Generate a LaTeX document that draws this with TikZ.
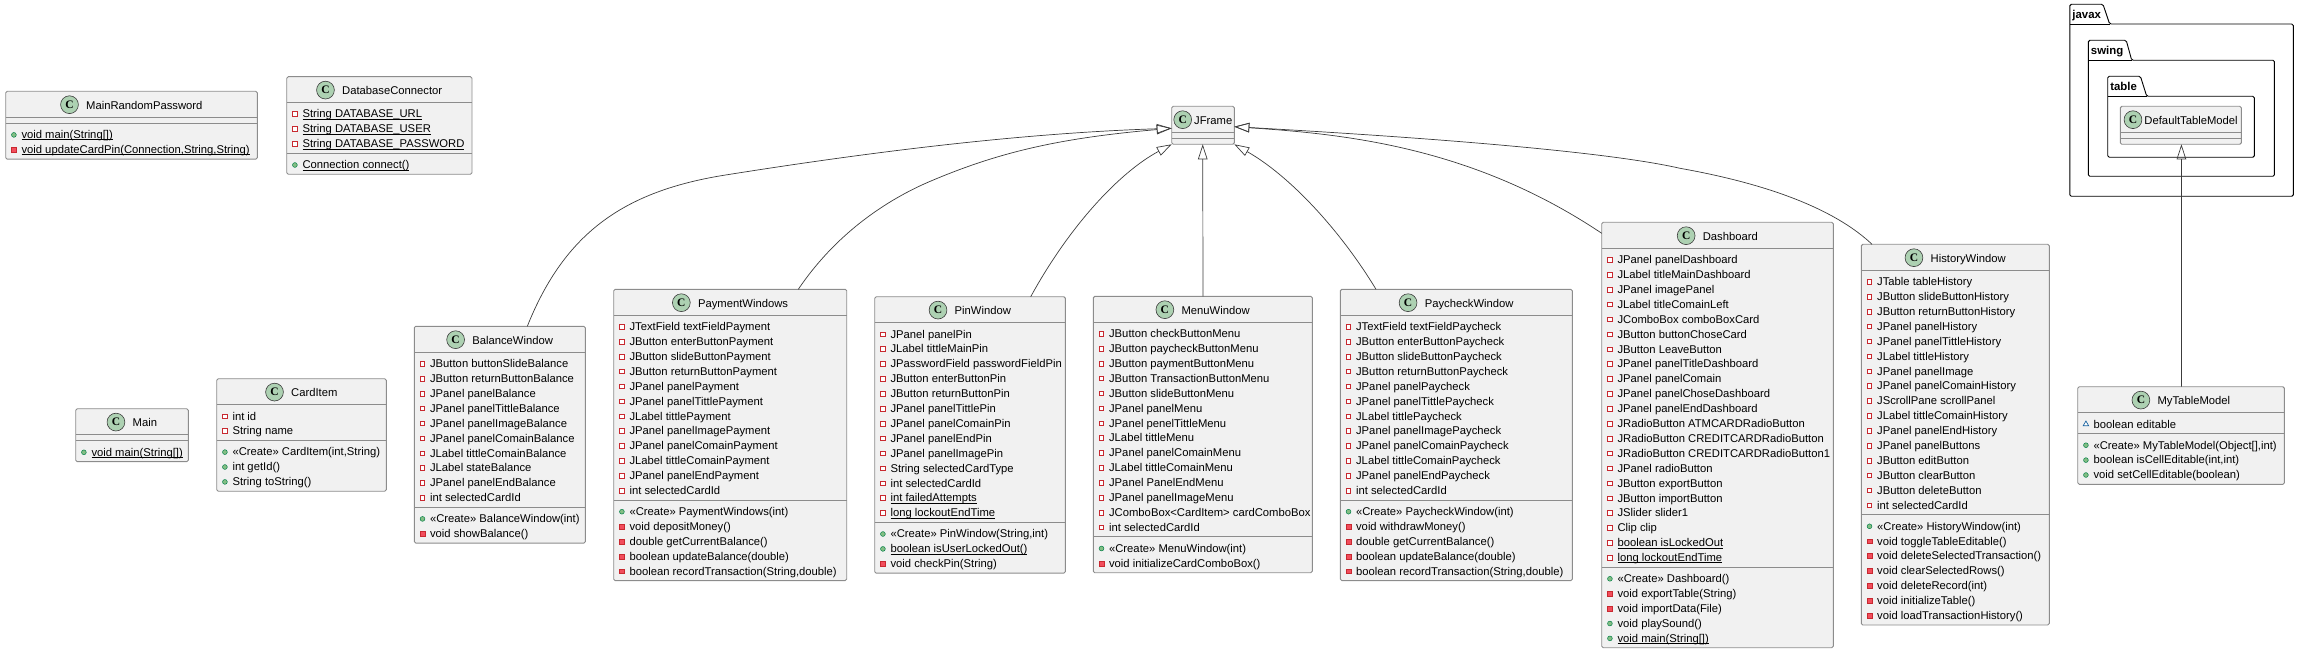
\documentclass[tikz,border=0pt]{standalone}
\usepackage{fontspec}
\setmainfont{Liberation Sans}
\newfontfamily\spotfont{Liberation Serif}
\usepackage{tikz}
\usetikzlibrary{arrows.meta, shapes.geometric, calc}

\definecolor{spotgreen}{HTML}{ADD1B2}
\definecolor{boxfill}{HTML}{F1F1F1}
\definecolor{boxline}{HTML}{8C8C8C}
\definecolor{inkline}{HTML}{3C3C3C}
\definecolor{privedge}{HTML}{C82930}
\definecolor{privfill}{HTML}{F24D5C}
\definecolor{pubedge}{HTML}{038048}
\definecolor{pubfill}{HTML}{84BE84}
\definecolor{pkgedge}{HTML}{1963A0}

\newcommand{\rowfont}{\fontsize{11.25}{14}\selectfont}
\newcommand{\spotgap}{25.7}
\newsavebox{\staticbox}
\newcommand{\umlstatic}[1]{\sbox{\staticbox}{#1}\rlap{\usebox{\staticbox}}\rule[-1.5pt]{\wd\staticbox}{0.7pt}}

\tikzset{
    >={Triangle[open,length=15pt,width=9.5pt]},
    classbox/.style={draw=boxline, fill=boxfill, line width=0.9pt, rounded corners=1.5pt, inner sep=0pt, outer sep=0pt},
    classline/.style={draw=boxline, line width=0.9pt},
    spot/.style={circle, draw=inkline, fill=spotgreen, line width=0.6pt, minimum size=17.8pt, inner sep=0pt, font=\spotfont\bfseries\fontsize{11.5}{12}\selectfont},
    rowtext/.style={anchor=base west, inner sep=0pt, font=\rowfont},
    visf/.style={rectangle, draw=privedge, fill=white, line width=0.8pt, minimum size=4.6pt, inner sep=0pt},
    vism/.style={rectangle, draw=privedge, fill=privfill, line width=0.5pt, minimum size=4.8pt, inner sep=0pt},
    visp/.style={circle, draw=pubedge, fill=pubfill, line width=0.5pt, minimum size=4.8pt, inner sep=0pt},
    visk/.style={regular polygon, regular polygon sides=3, draw=pkgedge, fill=white, line width=0.7pt, minimum size=6.4pt, inner sep=0pt},
    genline/.style={<-, draw=inkline, line width=0.7pt},
    pkgline/.style={draw=black, line width=0.9pt, rounded corners=1.5pt},
    pkgtext/.style={anchor=base west, inner sep=0pt, font=\bfseries\fontsize{11.4}{14}\selectfont}
}

% id, left, right, top, number of fields, number of methods, title, fields, methods
\newcommand{\umlclass}[9]{
    \pgfmathsetmacro{\hdy}{#4+25.8}
    \pgfmathsetmacro{\sepy}{\hdy+14.9*#5+6.1}
    \pgfmathsetmacro{\boty}{\sepy+14.9*#6+6.1}
    \pgfmathsetmacro{\bw}{#3-#2}
    \pgfmathsetmacro{\bh}{\boty-#4}
    \node[classbox, anchor=north west, minimum width=\bw pt, minimum height=\bh pt] (#1) at (#2,#4) {};
    \draw[classline] (#2,\hdy) -- (#3,\hdy);
    \draw[classline] (#2,\sepy) -- (#3,\sepy);
    \node[rowtext, anchor=base] (#1-title) at ({(#2+#3+\spotgap)/2},#4+18) {#7};
    \node[spot] (#1-spot) at ($(#1-title.base west)+(9.2-\spotgap,-4.6)$) {C};
    \ifnum#5>0
        \foreach \mk/\txt [count=\i] in {#8} {
            \pgfmathsetmacro{\rowy}{\hdy+11.7+14.9*(\i-1)}
            \node[vis\mk] (#1-fm\i) at (#2+8.2,\rowy) {};
            \node[rowtext] (#1-f\i) at (#2+15.6,\rowy+3.8) {\txt};
        }
    \fi
    \ifnum#6>0
        \foreach \mk/\txt [count=\i] in {#9} {
            \pgfmathsetmacro{\rowy}{\sepy+11.7+14.9*(\i-1)}
            \node[vis\mk] (#1-mm\i) at (#2+8.2,\rowy) {};
            \node[rowtext] (#1-m\i) at (#2+15.6,\rowy+3.8) {\txt};
        }
    \fi
}

% id, left, right, tab top, tab bottom, bottom, tab top right, tab right
\newcommand{\umlpackage}[8]{
    \draw[pkgline] (#2,#5) -- (#2,#4) -- (#7,#4) -- (#8,#5) -- (#3,#5) -- (#3,#6) -- (#2,#6) -- cycle;
    \draw[draw=black, line width=0.9pt] (#2,#5) -- (#8,#5);
    \node[pkgtext] (pkg-#1) at (#2+2.4,#4+14.5) {#1};
}

\begin{document}
\begin{tikzpicture}[x=1pt,y=-1pt]
    \useasboundingbox (0,0) rectangle (2298,652);

    \umlpackage{javax}{2069.8}{2293.3}{4.3}{24}{196.3}{2103}{2109.6}
    \umlpackage{swing}{2088.3}{2274.4}{40.3}{60.3}{176.3}{2126.2}{2131.7}
    \umlpackage{table}{2107.7}{2254.3}{76.3}{96.3}{157.3}{2140.4}{2146.7}

    \umlclass{MainRandomPassword}{5.7}{257.3}{91.3}{0}{2}{MainRandomPassword}{}
        {p/{\umlstatic{void main(String[])}}, m/{\umlstatic{void updateCardPin(Connection,String,String)}}}
    \umlclass{DatabaseConnector}{286.7}{472}{76.7}{3}{1}{DatabaseConnector}
        {f/{\umlstatic{String DATABASE\_URL}}, f/{\umlstatic{String DATABASE\_USER}}, f/{\umlstatic{String DATABASE\_PASSWORD}}}
        {p/{\umlstatic{Connection connect()}}}
    \umlclass{Main}{75.7}{188.3}{408.7}{0}{1}{Main}{}
        {p/{\umlstatic{void main(String[])}}}
    \umlclass{CardItem}{216.7}{386.3}{378.7}{2}{3}{CardItem}
        {f/int id, f/String name}
        {p/{«Create» CardItem(int,String)}, p/int getId(), p/String toString()}
    \umlclass{BalanceWindow}{414.3}{585.3}{326.3}{10}{2}{BalanceWindow}
        {f/JButton buttonSlideBalance, f/JButton returnButtonBalance, f/JPanel panelBalance,
         f/JPanel panelTittleBalance, f/JPanel panelImageBalance, f/JPanel panelComainBalance,
         f/JLabel tittleComainBalance, f/JLabel stateBalance, f/JPanel panelEndBalance, f/int selectedCardId}
        {p/«Create» BalanceWindow(int), m/void showBalance()}
    \umlclass{PaymentWindows}{613.7}{846.7}{289.3}{12}{5}{PaymentWindows}
        {f/JTextField textFieldPayment, f/JButton enterButtonPayment, f/JButton slideButtonPayment,
         f/JButton returnButtonPayment, f/JPanel panelPayment, f/JPanel panelTittlePayment,
         f/JLabel tittlePayment, f/JPanel panelImagePayment, f/JPanel panelComainPayment,
         f/JLabel tittleComainPayment, f/JPanel panelEndPayment, f/int selectedCardId}
        {p/«Create» PaymentWindows(int), m/void depositMoney(), m/double getCurrentBalance(),
         m/boolean updateBalance(double), m/{boolean recordTransaction(String,double)}}
    \umlclass{PinWindow}{874.7}{1065.3}{296.7}{13}{3}{PinWindow}
        {f/JPanel panelPin, f/JLabel tittleMainPin, f/JPasswordField passwordFieldPin,
         f/JButton enterButtonPin, f/JButton returnButtonPin, f/JPanel panelTittlePin,
         f/JPanel panelComainPin, f/JPanel panelEndPin, f/JPanel panelImagePin,
         f/String selectedCardType, f/int selectedCardId, f/{\umlstatic{int failedAttempts}},
         f/{\umlstatic{long lockoutEndTime}}}
        {p/{«Create» PinWindow(String,int)}, p/{\umlstatic{boolean isUserLockedOut()}}, m/void checkPin(String)}
    \umlclass{MenuWindow}{1093.3}{1312.3}{296.3}{14}{2}{MenuWindow}
        {f/JButton checkButtonMenu, f/JButton paycheckButtonMenu, f/JButton paymentButtonMenu,
         f/JButton TransactionButtonMenu, f/JButton slideButtonMenu, f/JPanel panelMenu,
         f/JPanel penelTittleMenu, f/JLabel tittleMenu, f/JPanel panelComainMenu,
         f/JLabel tittleComainMenu, f/JPanel PanelEndMenu, f/JPanel panelImageMenu,
         f/JComboBox<CardItem> cardComboBox, f/int selectedCardId}
        {p/«Create» MenuWindow(int), m/void initializeCardComboBox()}
    \umlclass{PaycheckWindow}{1340.3}{1572.3}{289.3}{12}{5}{PaycheckWindow}
        {f/JTextField textFieldPaycheck, f/JButton enterButtonPaycheck, f/JButton slideButtonPaycheck,
         f/JButton returnButtonPaycheck, f/JPanel panelPaycheck, f/JPanel panelTittlePaycheck,
         f/JLabel tittlePaycheck, f/JPanel panelImagePaycheck, f/JPanel panelComainPaycheck,
         f/JLabel tittleComainPaycheck, f/JPanel panelEndPaycheck, f/int selectedCardId}
        {p/«Create» PaycheckWindow(int), m/void withdrawMoney(), m/double getCurrentBalance(),
         m/boolean updateBalance(double), m/{boolean recordTransaction(String,double)}}
    \umlclass{Dashboard}{1601.7}{1833.3}{222.3}{21}{5}{Dashboard}
        {f/JPanel panelDashboard, f/JLabel titleMainDashboard, f/JPanel imagePanel,
         f/JLabel titleComainLeft, f/JComboBox comboBoxCard, f/JButton buttonChoseCard,
         f/JButton LeaveButton, f/JPanel panelTitleDashboard, f/JPanel panelComain,
         f/JPanel panelChoseDashboard, f/JPanel panelEndDashboard, f/JRadioButton ATMCARDRadioButton,
         f/JRadioButton CREDITCARDRadioButton, f/JRadioButton CREDITCARDRadioButton1, f/JPanel radioButton,
         f/JButton exportButton, f/JButton importButton, f/JSlider slider1, f/Clip clip,
         f/{\umlstatic{boolean isLockedOut}}, f/{\umlstatic{long lockoutEndTime}}}
        {p/«Create» Dashboard(), m/void exportTable(String), m/void importData(File), p/void playSound(),
         p/{\umlstatic{void main(String[])}}}
    \umlclass{HistoryWindow}{1861.3}{2049.3}{244.3}{16}{7}{HistoryWindow}
        {f/JTable tableHistory, f/JButton slideButtonHistory, f/JButton returnButtonHistory,
         f/JPanel panelHistory, f/JPanel panelTittleHistory, f/JLabel tittleHistory, f/JPanel panelImage,
         f/JPanel panelComainHistory, f/JScrollPane scrollPanel, f/JLabel tittleComainHistory,
         f/JPanel panelEndHistory, f/JPanel panelButtons, f/JButton editButton, f/JButton clearButton,
         f/JButton deleteButton, f/int selectedCardId}
        {p/«Create» HistoryWindow(int), m/void toggleTableEditable(), m/void deleteSelectedTransaction(),
         m/void clearSelectedRows(), m/void deleteRecord(int), m/void initializeTable(),
         m/void loadTransactionHistory()}
    \umlclass{MyTableModel}{2077.7}{2284.3}{386.7}{1}{3}{MyTableModel}
        {k/boolean editable}
        {p/{«Create» MyTableModel(Object[],int)}, p/{boolean isCellEditable(int,int)}, p/void setCellEditable(boolean)}

    \renewcommand{\spotgap}{20.5}
    \umlclass{JFrame}{1171.7}{1234.3}{106.3}{0}{0}{JFrame}{}{}
    \umlclass{DefaultTableModel}{2120.3}{2241.3}{106.3}{0}{0}{DefaultTableModel}{}{}

    \draw[genline] ($(JFrame.north west)+(0,22)$) .. controls (1025,133) and (877,151) .. (730,174.3)
        .. controls (625,190) and (565,232) .. ($(BalanceWindow.north west)+(113,0)$);
    \draw[genline] ($(JFrame.north west)+(0,22)$) .. controls (1060,138) and (1000,152) .. (933.3,180)
        .. controls (885,200) and (835,235) .. ($(PaymentWindows.north west)+(184.6,0)$);
    \draw[genline] (JFrame.south west) .. controls (1120,172) and (1070,225) .. ($(PinWindow.north west)+(156,0)$);
    \draw[genline] ($(JFrame.south west)+(31,0)$) -- ($(MenuWindow.north west)+(109.7,0)$);
    \draw[genline] (JFrame.south east) .. controls (1290,176) and (1340,230) .. ($(PaycheckWindow.north west)+(35.7,0)$);
    \draw[genline] ($(JFrame.north east)+(0,20.4)$) .. controls (1340,134) and (1470,145) .. ($(Dashboard.north west)+(0,11)$);
    \draw[genline] ($(JFrame.north east)+(0,20.4)$) .. controls (1400,136) and (1600,150) .. (1680,168.3)
        .. controls (1740,179) and (1825,200) .. ($(HistoryWindow.north west)+(10.7,0)$);
    \draw[genline] ($(DefaultTableModel.south west)+(61.1,0)$) -- ($(MyTableModel.north west)+(103.7,0)$);
\end{tikzpicture}
\end{document}
